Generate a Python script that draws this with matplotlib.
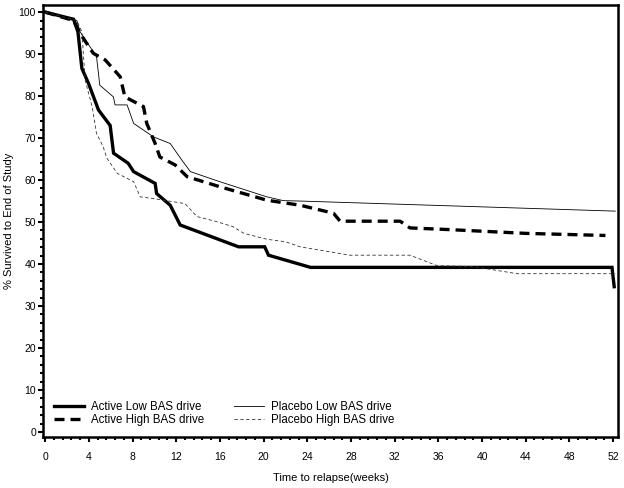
import numpy as np
import matplotlib.pyplot as plt
from matplotlib.ticker import MultipleLocator

plt.rcParams['font.family'] = ['Liberation Sans', 'DejaVu Sans']

# survival curves, weeks vs % survived
act_low_t = [0, 2.6, 3.0, 3.36, 3.97, 4.88, 5.95, 6.26, 7.6, 8.1, 10.07, 10.2, 11.45, 12.36,
             17.7, 20.1, 20.45, 24.3, 51.9, 52.1]
act_low_s = [100, 98.3, 95.3, 86.6, 83, 76.7, 73, 66.4, 64, 62, 59.2, 56.8, 54, 49.3,
             44.1, 44.1, 42.1, 39.2, 39.2, 34.6]

act_high_t = [0, 2.6, 3.2, 4.4, 5.5, 6.87, 7.3, 9.0, 9.3, 10.07, 10.5, 11.9, 13.0, 16.0,
              20.3, 23.35, 26.4, 27.0, 32.5, 33.4, 37, 44, 51.3]
act_high_s = [100, 98, 94.9, 90.2, 88.6, 84.6, 79.8, 77.5, 73.5, 68.7, 65.5, 63.6, 60.8, 58.4,
              55.2, 54, 52.1, 50.2, 50.2, 48.6, 48.2, 47.3, 46.8]

pla_low_t = [0, 2.9, 3.2, 4.7, 5.0, 6.25, 6.4, 7.5, 8.1, 9.9, 11.45, 12.5, 13.3, 16.0,
             20.3, 21.8, 23.35, 52.2]
pla_low_s = [100, 98, 95.3, 89.4, 82.6, 79.8, 77.9, 77.9, 73.5, 70.3, 68.7, 64.8, 62, 59.6,
             56, 55.1, 55, 52.6]

pla_high_t = [0, 2.9, 3.36, 3.66, 4.3, 4.7, 5.3, 5.65, 6.6, 7.5, 8.1, 8.7, 9.9, 10.8, 12.8,
              13.9, 15.7, 17.2, 18.2, 20.3, 22.0, 23.35, 27.9, 33.4, 35.9, 39.2, 43.2, 52.2]
pla_high_s = [100, 98, 95.3, 83.8, 77.5, 71.1, 68, 65.2, 61.6, 60.4, 59.6, 56, 55.6, 55.2, 54.4,
              51.3, 50.1, 48.9, 47.3, 45.9, 45.3, 44.1, 42.1, 42.1, 39.6, 39.4, 37.7, 37.7]

fig = plt.figure(figsize=(6.24, 4.88), dpi=100)
ax = fig.add_axes([0.0689, 0.1045, 0.9215, 0.8853])

l1, = ax.plot(act_low_t, act_low_s, color='black', lw=2.4, solid_joinstyle='miter')
l2, = ax.plot(act_high_t, act_high_s, color='black', lw=2.4, dashes=(3, 1.8))
l3, = ax.plot(pla_low_t, pla_low_s, color='black', lw=0.6)
l4, = ax.plot(pla_high_t, pla_high_s, color='#333333', lw=0.6, dashes=(4, 3))

ax.set_xlim(-0.2, 52.45)
ax.set_ylim(-1.2, 101.7)
ax.xaxis.set_major_locator(MultipleLocator(4))
ax.xaxis.set_minor_locator(MultipleLocator(0.8))
ax.yaxis.set_major_locator(MultipleLocator(10))
ax.yaxis.set_minor_locator(MultipleLocator(2))
ax.tick_params(which='major', length=3.5, width=1.5, labelsize=7.5)
ax.tick_params(axis='x', which='major', pad=7)
ax.tick_params(axis='y', which='major', pad=1.5)
ax.tick_params(which='minor', length=2, width=1.5)
for s in ax.spines.values():
    s.set_linewidth(1.8)

ax.set_xlabel('Time to relapse(weeks)', fontsize=8, labelpad=8)
fig.text(9 / 624, 1 - 221 / 488, '% Survived to End of Study', fontsize=8,
         rotation=90, ha='center', va='center')

ax.legend([l1, l2, l3, l4],
          ['Active Low BAS drive', 'Active High BAS drive',
           'Placebo Low BAS drive', 'Placebo High BAS drive'],
          loc='lower left', bbox_to_anchor=(0.0, 0.0), ncol=2, frameon=False,
          fontsize=8.3, handlelength=2.6, labelspacing=0.05, columnspacing=2.6,
          handletextpad=0.6, borderaxespad=0.55)

fig.savefig('out.png', dpi=100)
